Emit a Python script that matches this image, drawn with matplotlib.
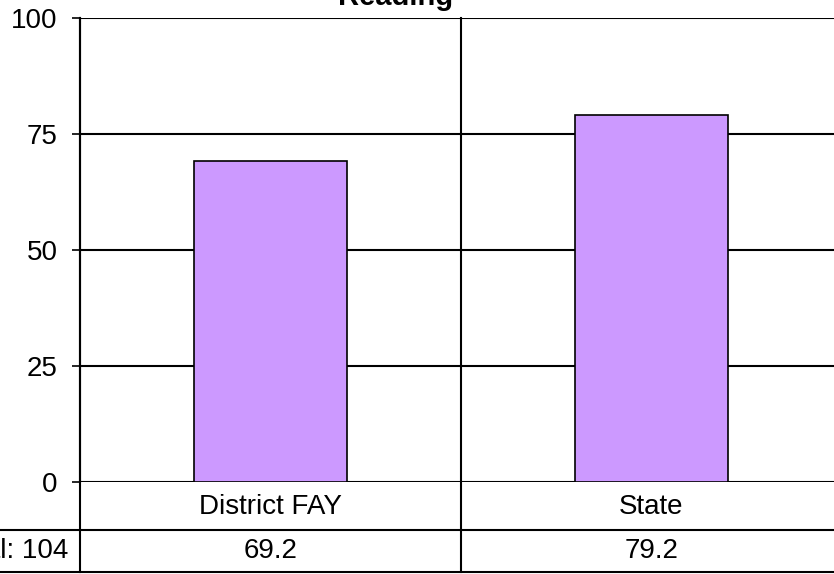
import matplotlib.pyplot as plt
import numpy as np

plt.rcParams['font.family'] = ['Liberation Sans', 'DejaVu Sans']

# data
categories = ['District FAY', 'State']
values = [69.2, 79.2]
value_labels = ['69.2', '79.2']
row_label = 'Total: 104'
title = 'Reading'
yticks = [0, 25, 50, 75, 100]

W, H = 834, 574
fig = plt.figure(figsize=(W / 100, H / 100), dpi=100)

# plot area in pixel coords (left axis at x=80, right edge beyond the canvas)
x0, x1 = 80, 842
y_top, y_bot = 18, 482
ax = fig.add_axes([x0 / W, 1 - y_bot / H, (x1 - x0) / W, (y_bot - y_top) / H])

x = np.arange(len(categories))
ax.bar(x, values, width=0.4, color='#CC99FF', edgecolor='black', linewidth=1.2, zorder=3)

ax.set_xlim(-0.5, len(categories) - 0.5)
ax.set_ylim(0, 100)
ax.set_yticks(yticks)
ax.set_yticklabels([str(t) for t in yticks], fontsize=20)
ax.tick_params(axis='y', length=6, width=1.2, pad=10, color='black')
ax.set_xticks([])
ax.yaxis.grid(True, color='black', linewidth=1.5, zorder=0)
for s in ['top', 'right', 'bottom']:
    ax.spines[s].set_visible(False)
ax.spines['left'].set_linewidth(1.5)

# category separators running through the table
tr = ax.get_xaxis_transform()
row1 = -(530 - y_bot) / (y_bot - y_top)
row2 = -(572 - y_bot) / (y_bot - y_top)
for xs in np.arange(len(categories) + 1) - 0.5:
    ax.plot([xs, xs], [1, row2], transform=tr, color='black', lw=1.5, clip_on=False, zorder=4)

# table rows
lab_y = -(507 - y_bot) / (y_bot - y_top)
val_y = -(551 - y_bot) / (y_bot - y_top)
for i, (c, v) in enumerate(zip(categories, value_labels)):
    ax.text(i, lab_y, c, transform=tr, ha='center', va='center', fontsize=20)
    ax.text(i, val_y, v, transform=tr, ha='center', va='center', fontsize=20)

fig.add_artist(plt.Line2D([0, 1], [1 - 530 / H, 1 - 530 / H], color='black', lw=1.5))
fig.add_artist(plt.Line2D([0, 1], [1 - 572 / H, 1 - 572 / H], color='black', lw=1.5))
fig.text(68 / W, 1 - 551 / H, row_label, ha='right', va='center', fontsize=20)

fig.text(396 / W, 1 - 5 / H, title, ha='center', va='baseline', fontsize=21, fontweight='bold')

fig.savefig('out.png', dpi=100)
